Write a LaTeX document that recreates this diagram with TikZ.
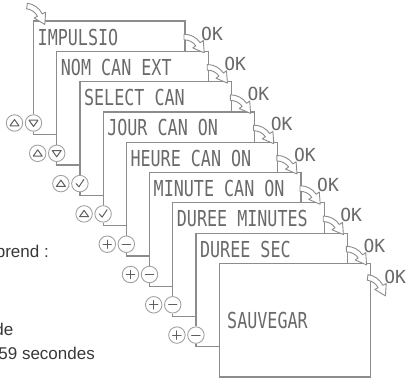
\documentclass[tikz,border=0pt]{standalone}
\usepackage{fontspec}
\setmainfont{Liberation Sans}
\newfontfamily\lcdfont[FakeStretch=0.76]{DejaVu Sans Mono}
\newfontfamily\okfont{DejaVu Sans Mono}
\definecolor{lineg}{HTML}{8C8C8C}
\definecolor{circg}{HTML}{A2A2A2}
\definecolor{symg}{HTML}{5E5E5E}
\definecolor{lcdg}{HTML}{6A6A6A}
\definecolor{textg}{HTML}{383838}
\tikzset{
  boxline/.style={draw=lineg, line width=1.2pt},
  conn/.style={draw=lineg, line width=1.2pt},
  btn/.style={circle, draw=circg, fill=white, line width=0.9pt, minimum size=16.5pt, inner sep=0pt},
  sym/.style={draw=symg, line width=1pt, line join=round, line cap=round},
  lcd/.style={text=lcdg, font=\lcdfont\fontsize{22}{22}\selectfont, inner sep=0pt, anchor=base west},
  oklab/.style={text=lcdg, font=\okfont\fontsize{18}{18}\selectfont, inner sep=0pt, anchor=base west},
  side/.style={text=textg, font=\fontsize{17}{17}\selectfont, inner sep=0pt, anchor=base east},
  okarrow/.pic={\filldraw[fill=white, draw=lineg, line width=0.9pt, line join=round]
     (0,-2.8) .. controls (6.5,-2.8) and (12.6,0.40) .. (16.2,5.7)
     -- (19.3,3.5) -- (20.2,15.8) -- (8.8,10.9) -- (11.8,8.8)
     .. controls (9.1,4.9) and (4.7,2.8) .. (0,2.8) -- cycle;},
  symup/.pic={\draw[sym] (-4.5,2.8) -- (4.5,2.8) -- (0,-3.5) -- cycle;},
  symdown/.pic={\draw[sym] (-4.5,-2.8) -- (4.5,-2.8) -- (0,3.5) -- cycle;},
  symcheck/.pic={\draw[sym] (-3.8,0) -- (-1,3.2) -- (4,-4.2);},
  symplus/.pic={\draw[sym] (-4.2,0) -- (4.2,0) (0,-4.2) -- (0,4.2);},
  symminus/.pic={\draw[sym] (-4.2,0) -- (4.2,0);}
}
\begin{document}
\begin{tikzpicture}[x=1pt,y=-1pt]
\useasboundingbox (0,0) rectangle (406,378);
\fill[white] (0,0) rectangle (406,378);

% stacked boxes with buttons
\foreach \i/\txt in {0/IMPULSIO,1/NOM CAN EXT,2/SELECT CAN,3/JOUR CAN ON,4/HEURE CAN ON,5/MINUTE CAN ON,6/DUREE MINUTES,7/DUREE SEC} {
  \pgfmathsetmacro\lx{33.5+23.2*\i}
  \pgfmathsetmacro\nx{33.5+23.2*(\i+1)}
  \pgfmathsetmacro\rx{185+23.2*\i}
  \pgfmathsetmacro\ty{21+30.3*\i}
  \pgfmathsetmacro\by{\ty+102}
  \fill[white] (\lx,\ty) rectangle (\rx,\ty+45);
  \node[btn] (L\i) at (\lx-19,\by) {};
  \node[btn] (R\i) at (\lx,\by) {};
  \ifnum\i<4 \pic at (L\i) {symup}; \else \pic at (L\i) {symplus}; \fi
  \ifnum\i<2 \pic at (R\i) {symdown}; \else\ifnum\i<4 \pic at (R\i) {symcheck}; \else \pic at (R\i) {symminus}; \fi\fi
  \coordinate (tl\i) at (\lx,\ty);
  \coordinate (tr\i) at (\rx,\ty);
  \draw[boxline] (R\i.north) -- (tl\i) -- (tr\i) -- ++(0,40);
  \node[lcd] (t\i) at (\lx+4,\ty+24) {\txt};
  \coordinate (n\i) at (\nx,\by+11);
  \draw[conn] (R\i.south) -- ++(0,3) -| (n\i);
}

% last box
\coordinate (tl8) at (219.1,263.4);
\coordinate (tr8) at (370.6,263.4);
\draw[boxline, fill=white] (tl8) rectangle (370.6,377);
\node[lcd] (t8) at (227,328) {SAUVEGAR};

% OK arrows and labels
\pic[rotate=-8] at (27,6) {okarrow};
\foreach \i in {0,...,7} {
  \pic at ([xshift=-1pt,yshift=-16pt]tr\i) {okarrow};
  \node[oklab] (ok\i) at ([xshift=16pt,yshift=-19pt]tr\i) {OK};
}
\pic[rotate=-8] at ([xshift=-3pt,yshift=-14pt]tr8) {okarrow};
\node[oklab] (ok8) at ([xshift=13.5pt,yshift=-20pt]tr8) {OK};

% side text (cut off on the left)
\node[side] (s1) at (49,257) {prend :};
\node[side] (s2) at (13.5,335) {de};
\node[side] (s3) at (95,359) {59 secondes};
\end{tikzpicture}
\end{document}
